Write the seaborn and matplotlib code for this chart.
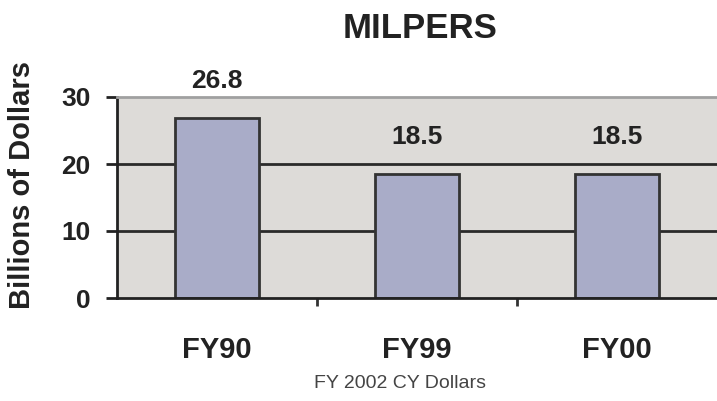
import seaborn as sns
import matplotlib.pyplot as plt
import pandas as pd

# values
years = ['FY90', 'FY99', 'FY00']
spending = [26.8, 18.5, 18.5]
y_ticks = [0, 10, 20, 30]


def milpers_chart():
    '''
    Bar chart of military personnel spending, FY 2002 constant dollars.
    '''
    sns.set_style('white')
    plt.rcParams['font.family'] = ['Liberation Sans', 'DejaVu Sans']

    df = pd.DataFrame({'year': years, 'billions': spending})

    fig = plt.figure(figsize=(7.17, 4.01), dpi=100)
    ax = fig.add_axes([117 / 717, 103 / 401, 600 / 717, 201 / 401])
    ax.set_facecolor('#dddbd8')

    # dark gridlines inside the plot area
    for t in y_ticks[1:-1]:
        ax.axhline(t, color='#2a2a2a', linewidth=2, zorder=1)

    sns.barplot(data=df, x='year', y='billions', color='#a9acc8',
                edgecolor='#333333', linewidth=2, width=0.42,
                saturation=1, ax=ax, zorder=2)

    ax.bar_label(ax.containers[0], fmt='%.1f', padding=18, fontsize=19,
                 fontweight='bold', color='#222222', clip_on=False)

    ax.set_ylim(0, 30)
    ax.set_xlim(-0.5, 2.5)
    ax.set_yticks(y_ticks)
    ax.set_xlabel('')
    ax.set_ylabel('')

    for side in ['left', 'bottom']:
        ax.spines[side].set_color('#222222')
        ax.spines[side].set_linewidth(2)
    ax.spines['top'].set_color('#a0a0a0')
    ax.spines['top'].set_linewidth(2)
    ax.spines['right'].set_visible(False)

    ax.tick_params(axis='y', left=True, direction='out', length=8, width=2,
                   color='#222222', pad=11, labelsize=19)
    ax.tick_params(axis='x', which='major', length=0, pad=27, labelsize=21)
    ax.set_xticks([0.5, 1.5], minor=True)
    ax.tick_params(axis='x', which='minor', bottom=True, direction='out',
                   length=6, width=2, color='#333333')
    for lab in ax.get_yticklabels() + ax.get_xticklabels():
        lab.set_fontweight('bold')
        lab.set_color('#222222')

    fig.text(420 / 717, 1 - 28 / 401, 'MILPERS', ha='center', va='center',
             fontsize=25, fontweight='bold', color='#222222')
    fig.text(22 / 717, 1 - 185 / 401, 'Billions of Dollars', rotation=90,
             ha='center', va='center', fontsize=21, fontweight='bold',
             color='#222222')
    fig.text(400 / 717, 1 - 384 / 401, 'FY 2002 CY Dollars', ha='center',
             va='center', fontsize=14, color='#444444')

    fig.savefig('out.png', dpi=100)


milpers_chart()
